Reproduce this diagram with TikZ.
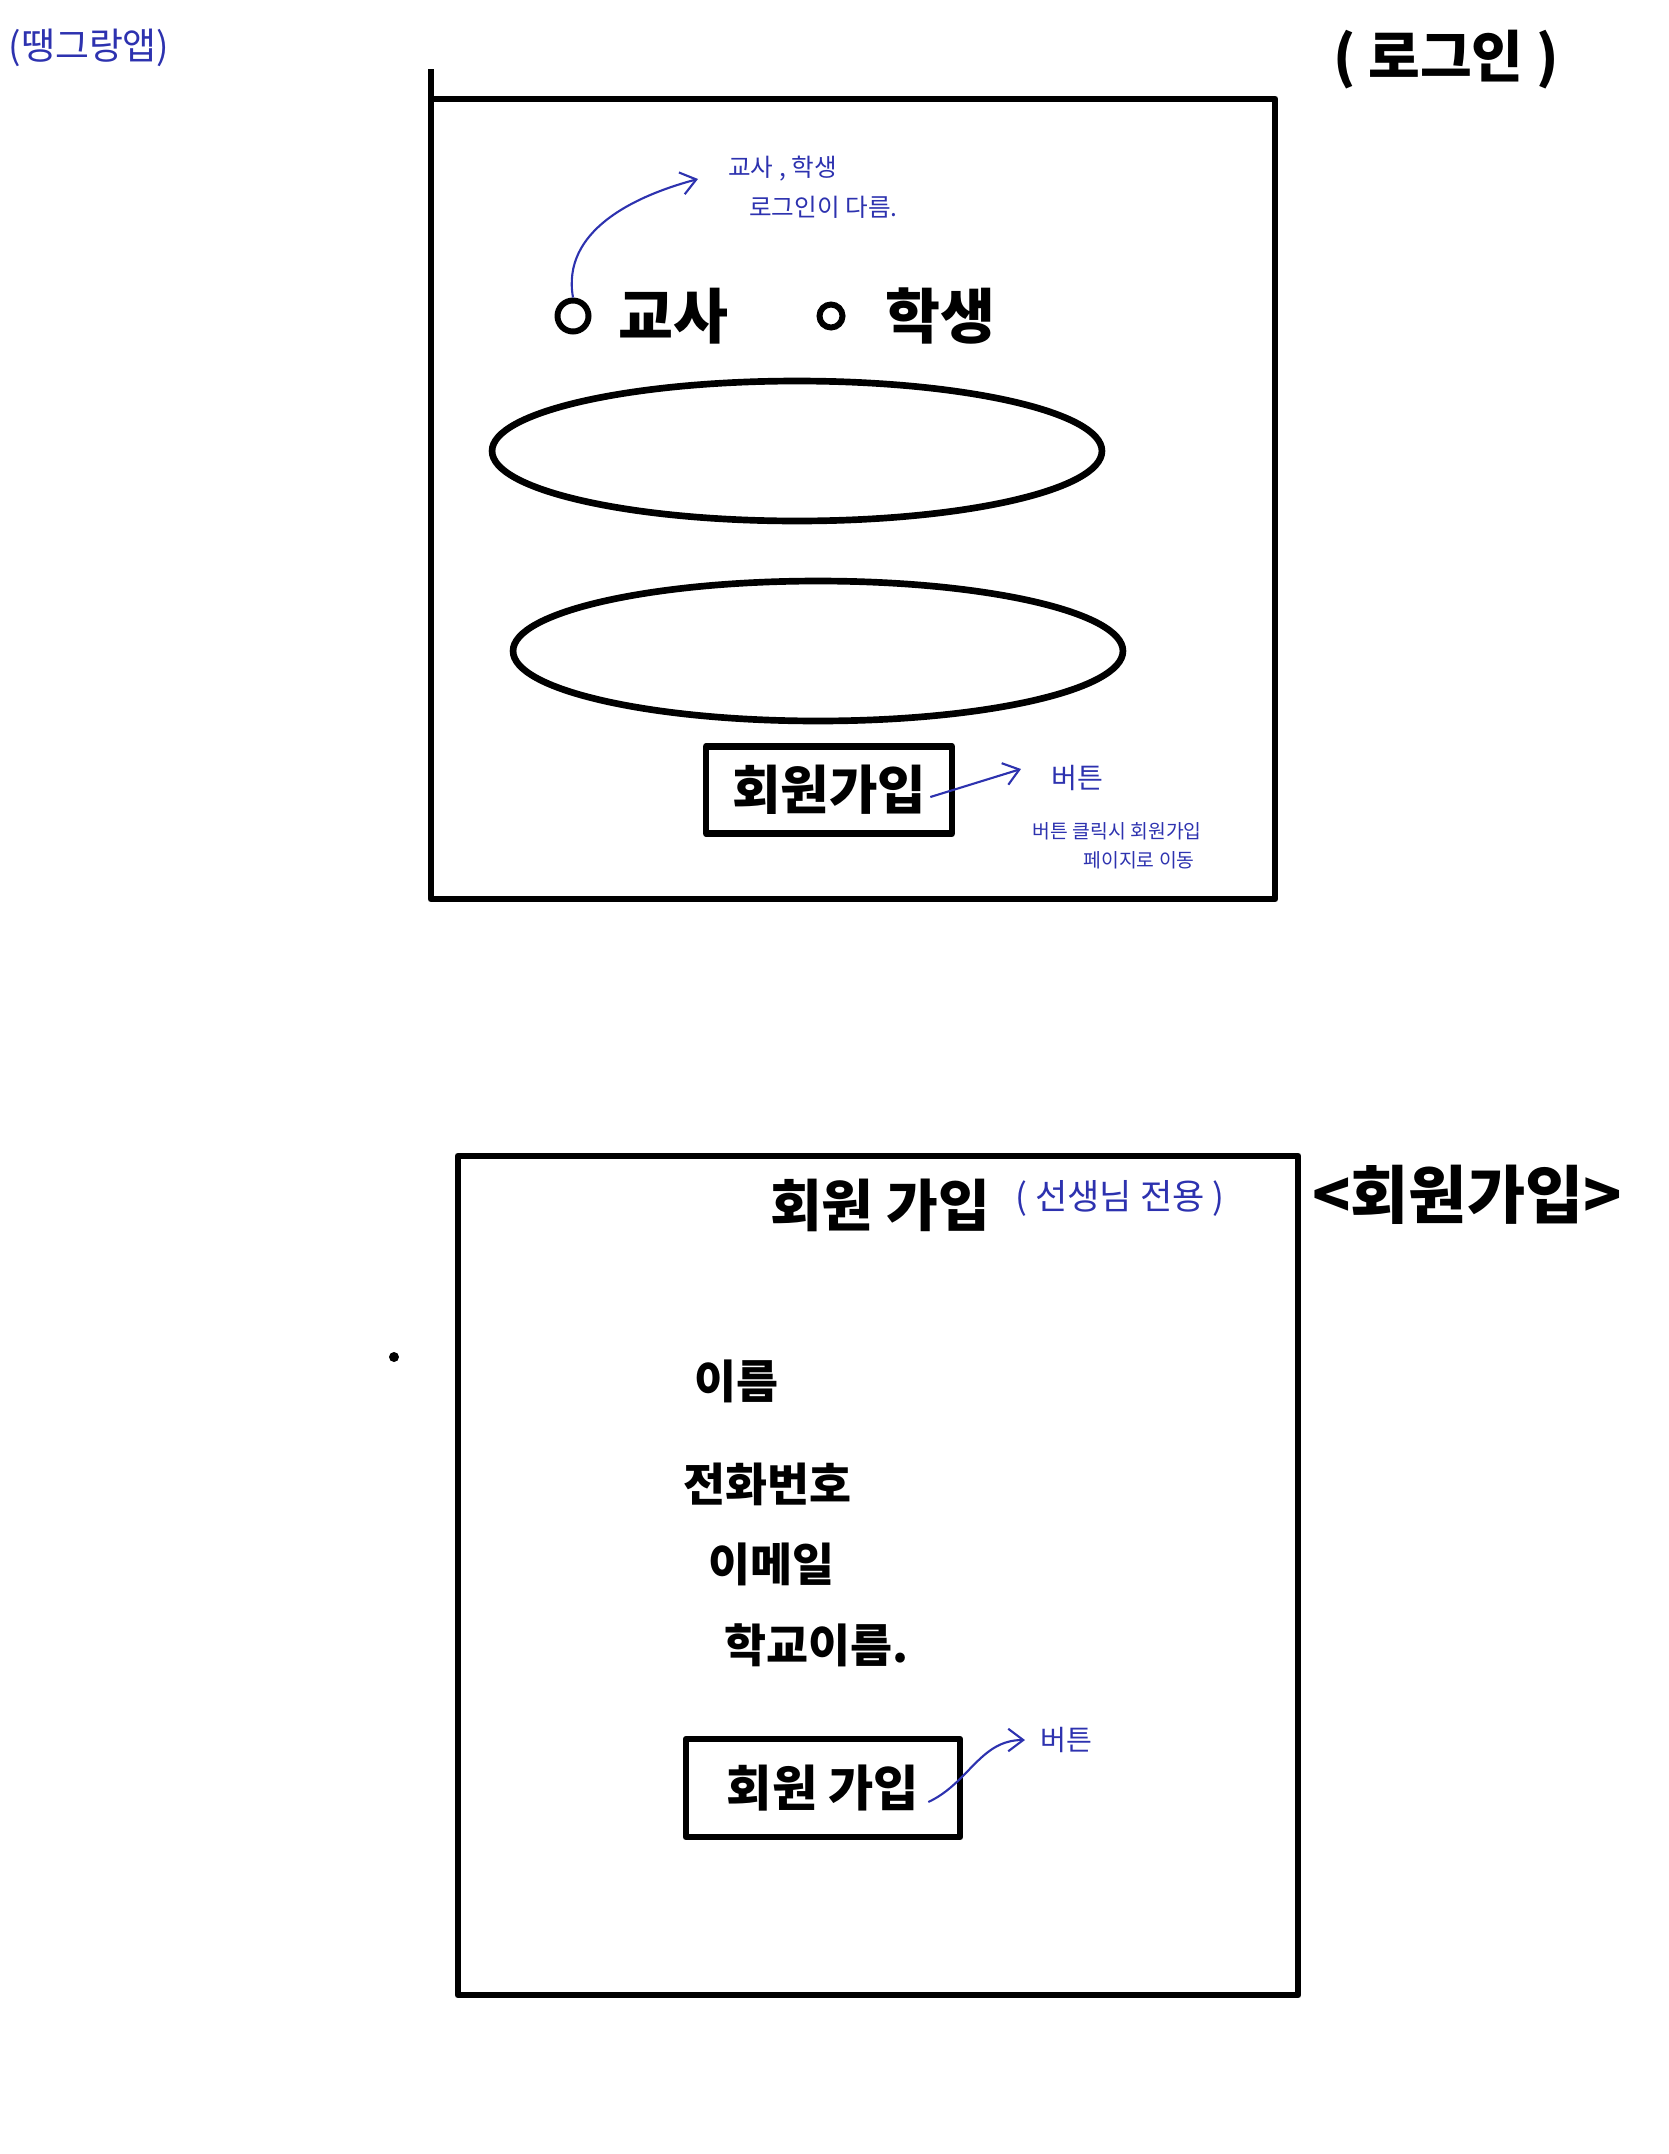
\documentclass[tikz,border=0pt]{standalone}
\usepackage{fontspec}
\setmainfont{Noto Sans CJK KR}
\usetikzlibrary{shapes.geometric, arrows.meta}
\definecolor{pen}{RGB}{45,50,175}
\tikzset{
  frame/.style={line width=3.8pt, line join=round},
  field/.style={ellipse, draw, line width=3.8pt, minimum width=12.2cm, minimum height=2.8cm},
  button/.style={draw, line width=3.8pt, line join=round, inner sep=0pt},
  radio/.style={circle, draw, line width=3.4pt, inner sep=0pt},
  ink/.style={font=\bfseries\fontsize{#1}{#1}\selectfont, inner sep=0pt},
  note/.style={text=pen, font=\fontsize{#1}{#1}\selectfont, inner sep=0pt},
  hint/.style={-{Straight Barb[length=3mm, width=4.5mm]}, pen, line width=1.2pt},
}
\begin{document}
\begin{tikzpicture}[x=0.02cm, y=-0.02cm]
    \useasboundingbox (0,0) rectangle (1668,2154);
    % titles
    \node[note=21] (app) at (89,48) {(땡그랑앱)};
    \node[ink=32] (tlogin) at (1446,60) {( 로그인 )};
    % login page
    \draw[frame] (431,99) rectangle (1275,899);
    \draw[frame] (431,99) -- (431,69);
    \node[radio, minimum width=0.62cm, minimum height=0.62cm] (rteach) at (573,316) {};
    \node[ink=34] (tteach) at (673,316) {교사};
    \node[radio, minimum width=0.46cm, minimum height=0.46cm] (rstud) at (831,316) {};
    \node[ink=34] (tstud) at (940,316) {학생};
    \node[note=14, anchor=west] (nrole) at (728,169) {교사 , 학생};
    \node[note=14, anchor=west] (nrole2) at (749,207) {로그인이 다름.};
    \draw[hint] (rteach.north) to[out=100, in=195] ([xshift=-0.6cm, yshift=-0.2cm]nrole.west);
    \node[field] (fid) at (797,451) {};
    \node[field] (fpw) at (818,651) {};
    \node[button, minimum width=4.92cm, minimum height=1.74cm, ink=30] (bjoin) at (829,790) {회원가입};
    \node[note=16, anchor=west] (nbtn) at (1051,778) {버튼};
    \draw[hint] ([xshift=-0.5cm, yshift=-0.14cm]bjoin.east) -- ([xshift=-0.6cm, yshift=0.18cm]nbtn.west);
    \node[note=11, anchor=east] (nclick) at (1202,831) {버튼 클릭시 회원가입};
    \node[note=11, anchor=east] (nclick2) at (1195,860) {페이지로 이동};
    % sign-up page
    \draw[frame] (458,1156) rectangle (1298,1995);
    \fill (394,1357) circle (5);
    \node[ink=32] (tjoin) at (880,1205) {회원 가입};
    \node[note=20] (nteach) at (1120,1198) {( 선생님 전용 )};
    \node[ink=36] (tpage) at (1467,1195) {<회원가입>};
    \node[ink=26, anchor=west] (tname) at (694,1381) {이름};
    \node[ink=26, anchor=west] (tphone) at (683,1484) {전화번호};
    \node[ink=26, anchor=west] (tmail) at (708,1564) {이메일};
    \node[ink=26, anchor=west] (tschool) at (724,1645) {학교이름.};
    \node[button, minimum width=5.48cm, minimum height=1.96cm, ink=28] (bsend) at (823,1788) {회원 가입};
    \node[note=16, anchor=west] (nbtn2) at (1040,1740) {버튼};
    \draw[hint] ([xshift=-0.7cm, yshift=-0.28cm]bsend.east) to[out=25, in=180] ([xshift=-0.3cm]nbtn2.west);
\end{tikzpicture}
\end{document}
